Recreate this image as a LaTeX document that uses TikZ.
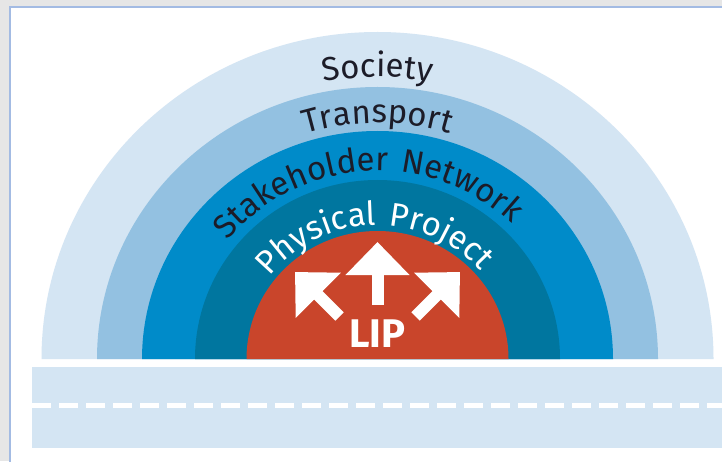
\documentclass[tikz,border=0pt]{standalone}
\usepackage{fontspec}
\setmainfont{Fira Sans}
\usepackage{tikz}
\usetikzlibrary{decorations.text}
\usetikzlibrary{arrows.meta}
\usepackage{xcolor}
\definecolor{framegray}{HTML}{E6E6E6}
\definecolor{frameline}{HTML}{A3BBE3}
\definecolor{society}{HTML}{D4E5F3}
\definecolor{transport}{HTML}{93C1E1}
\definecolor{network}{HTML}{008BC9}
\definecolor{physical}{HTML}{00769F}
\definecolor{lipred}{HTML}{C9452B}
\definecolor{ringtext}{HTML}{1C1C28}
\newcommand{\ringfont}[1]{\addfontfeatures{LetterSpace=#1}\fontsize{33}{33}\selectfont}

\begin{document}
\begin{tikzpicture}[x=1pt,y=1pt,
  ringlabel/.style={decorate, decoration={text along path, text align=center, text color=#1}},
  liparrow/.style={white, line width=12pt, -{Triangle[width=62pt,length=33pt]}}]
\useasboundingbox (0,0) rectangle (722,461);
\fill[framegray] (0,0) rectangle (722,461);
\filldraw[fill=white, draw=frameline, line width=1.5pt] (10,-10) rectangle (740,454);
\coordinate (c) at (377.5,102);
\fill[society] (c) ++(-336,0) arc[start angle=180, end angle=0, x radius=336, y radius=327] -- cycle;
\fill[transport] (c) ++(-280.5,0) arc[start angle=180, end angle=0, x radius=280.5, y radius=272] -- cycle;
\fill[network] (c) ++(-235.5,0) arc[start angle=180, end angle=0, x radius=235.5, y radius=228] -- cycle;
\fill[physical] (c) ++(-182.5,0) arc[start angle=180, end angle=0, x radius=182.5, y radius=179] -- cycle;
\fill[lipred] (c) ++(-131,0) arc[start angle=180, end angle=0, x radius=131, y radius=128] -- cycle;
\fill[society] (32,13) rectangle (730,94);
\draw[white, line width=5pt, dash pattern=on 19pt off 8pt] (32,56) -- (730,56);
\path[ringlabel=ringtext, decoration={text={|\ringfont{10}|Society}}] (c) ++(-290,0) arc[start angle=180, end angle=0, x radius=290, y radius=282];
\path[ringlabel=ringtext, decoration={text={|\ringfont{4}|Transport}}] (c) ++(-243,0) arc[start angle=180, end angle=0, x radius=243, y radius=236];
\path[ringlabel=ringtext, decoration={text={|\ringfont{10}|Stakeholder Network}}] (c) ++(187:193 and 188) arc[start angle=187, end angle=0, x radius=193, y radius=188];
\path[ringlabel=white, decoration={text={|\ringfont{9}|Physical Project}}] (c) ++(183:137 and 134) arc[start angle=183, end angle=0, x radius=137, y radius=134];
\coordinate (uptail) at (377.5,156);
\coordinate (uptip) at (377.5,219);
\coordinate (lefttail) at (339.5,144.5);
\coordinate (lefttip) at (295,189);
\coordinate (righttail) at (415.5,144.5);
\coordinate (righttip) at (460,189);
\draw[liparrow] (uptail) -- (uptip);
\draw[liparrow] (lefttail) -- (lefttip);
\draw[liparrow] (righttail) -- (righttip);
\node[white, anchor=base, font=\fontsize{40}{40}\selectfont\bfseries] (lip) at (377.5,114) {LIP};
\end{tikzpicture}
\end{document}
